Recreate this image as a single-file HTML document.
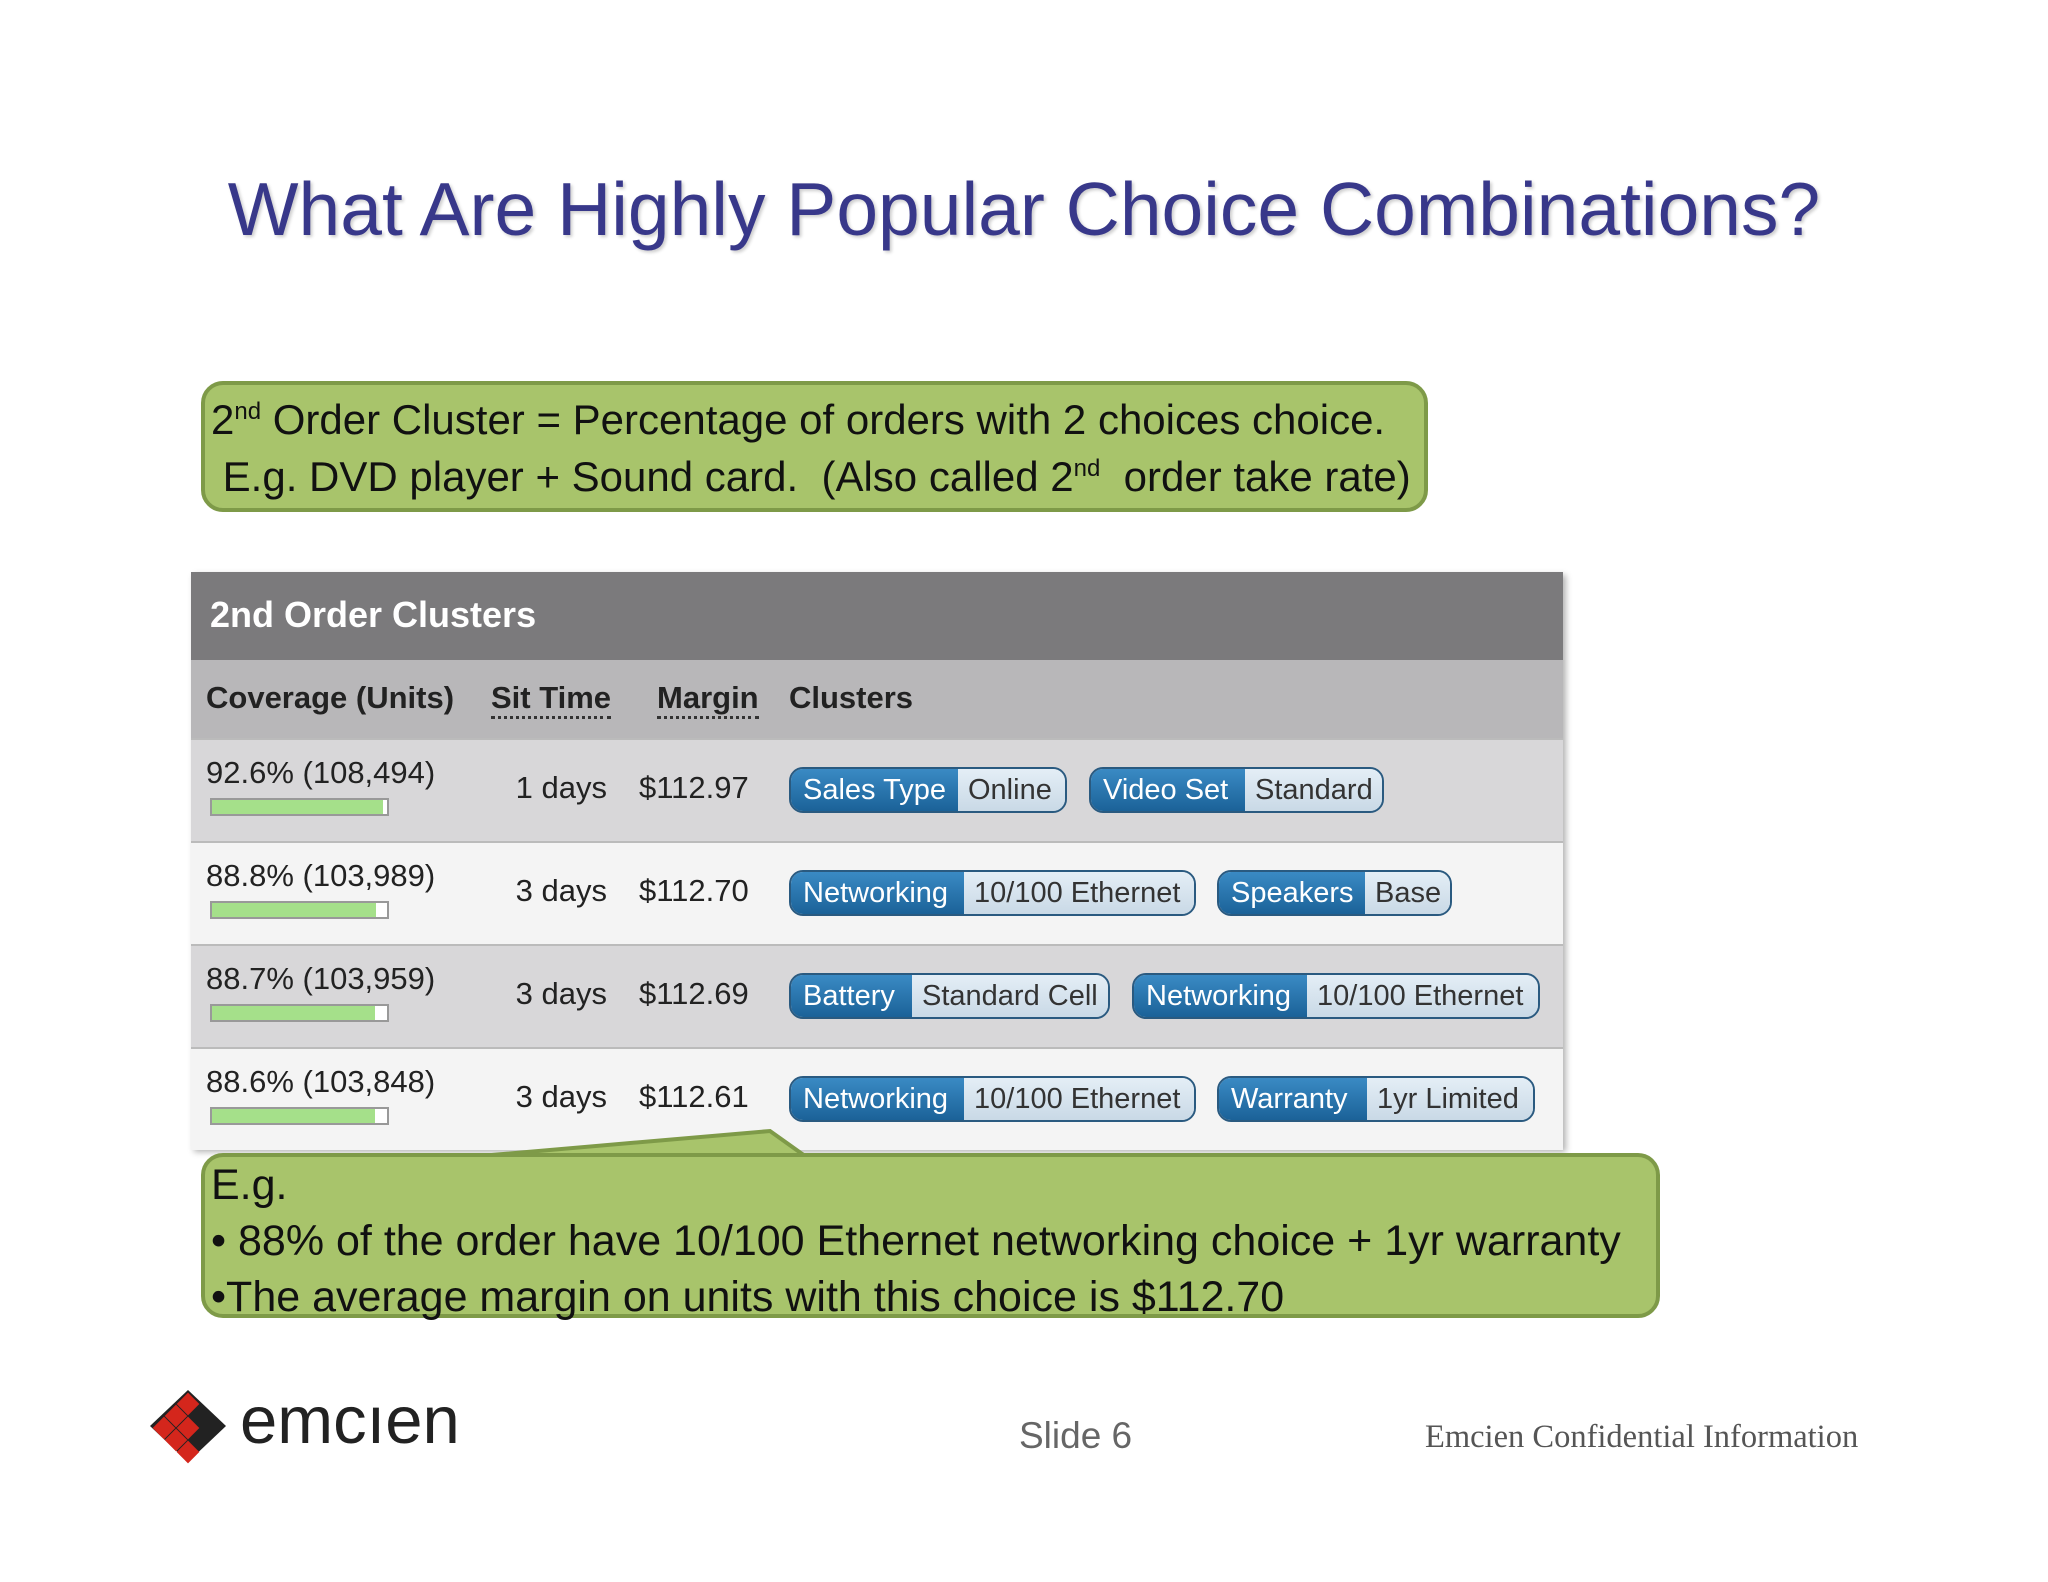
<!DOCTYPE html>
<html><head><meta charset="utf-8"><style>
body{margin:0;width:2048px;height:1582px;background:#fff;position:relative;overflow:hidden;font-family:"Liberation Sans",sans-serif}
.a{position:absolute}
.title{left:0;width:2048px;top:166px;text-align:center;font-size:75px;color:#38388a;text-shadow:2px 2px 3px rgba(0,0,0,.2)}
.gbox{background:#a8c46b;border:4px solid #7e9a48;border-radius:22px;box-sizing:border-box;color:#111;font-size:42px}
sup{line-height:0;font-size:24px}
.tbl{left:191px;top:572px;width:1372px;height:577px;box-shadow:3px 3px 6px rgba(0,0,0,.3)}
.t{font-family:"Liberation Sans Narrow","Liberation Sans",sans-serif;font-size:31px;color:#222;white-space:nowrap}
.pill{position:absolute;height:46px;border:2px solid #2a5a80;border-radius:14px;overflow:hidden;display:flex;box-sizing:border-box;font-family:"Liberation Sans Narrow","Liberation Sans",sans-serif;font-size:29px;line-height:42px}
.pk{background:linear-gradient(#3a8ac4,#1b6298);color:#fff;padding-left:12px;box-sizing:border-box}
.pv{background:linear-gradient(#e4eef6,#c9d9e6);color:#333;padding-left:10px;flex:1}
.bar{position:absolute;left:19px;width:179px;height:18px;border:2px solid #999;background:#fff;box-sizing:border-box}
.bar div{height:100%;background:#a5e08a}
</style></head><body>
<div class="a title">What Are Highly Popular Choice Combinations?</div>
<div class="a gbox" style="left:201px;top:381px;width:1227px;height:131px;padding:6px 0 0 6px;line-height:57px">2<sup>nd</sup> Order Cluster = Percentage of orders with 2 choices choice.<br>&nbsp;E.g. DVD player + Sound card.&nbsp; (Also called 2<sup>nd</sup>&nbsp; order take rate)</div>

<div class="a tbl">
 <div class="a" style="left:0;top:0;width:1372px;height:88px;background:#7b7a7c"></div>
 <div class="a t" style="left:19px;top:22px;font-size:36px;font-weight:bold;color:#fff">2nd Order Clusters</div>
 <div class="a" style="left:0;top:88px;width:1372px;height:78px;background:#b8b7b9"></div>
 <div class="a t" style="left:15px;top:108px;font-weight:bold">Coverage (Units)</div>
 <div class="a t" style="left:300px;top:108px;font-weight:bold;border-bottom:3px dotted #333">Sit Time</div>
 <div class="a t" style="left:466px;top:108px;font-weight:bold;border-bottom:3px dotted #333">Margin</div>
 <div class="a t" style="left:598px;top:108px;font-weight:bold">Clusters</div>
 <div id="rows"></div>
</div>

<svg class="a" style="left:0;top:0" width="2048" height="1582"><polygon points="480,1156 770,1131 805,1156" fill="#a8c46b" stroke="#7e9a48" stroke-width="4"/><rect x="470" y="1158" width="340" height="6" fill="#a8c46b"/></svg>
<div class="a gbox" style="left:201px;top:1153px;width:1459px;height:165px;padding:0 0 0 6px;line-height:55px"><span style="font-size:43px">E.g.<br>• 88% of the order have 10/100 Ethernet networking choice + 1yr warranty<br>•The average margin on units with this choice is $112.70</span></div>

<svg class="a" style="left:150px;top:1388px" width="80" height="76"><polygon points="38,2 76,38 38,74 0,38" fill="#222"/><g fill="#d4261c"><rect x="30" y="8" width="16" height="16" transform="rotate(45 38 16)"/><rect x="18" y="20" width="16" height="16" transform="rotate(45 26 28)"/><rect x="6" y="32" width="16" height="16" transform="rotate(45 14 40)"/><rect x="30" y="32" width="16" height="16" transform="rotate(45 38 40)"/><rect x="18" y="44" width="16" height="16" transform="rotate(45 26 52)"/><rect x="30" y="56" width="16" height="16" transform="rotate(45 38 64)"/></g></svg>
<div class="a" style="left:240px;top:1382px;font-size:67px;color:#222">emcıen</div>
<div class="a" style="left:1019px;top:1415px;font-size:37px;color:#666">Slide 6</div>
<div class="a" style="left:1425px;top:1419px;font-size:32.5px;color:#555;font-family:'Liberation Serif',serif">Emcien Confidential Information</div>

<script>
const coverage=["92.6% (108,494)","88.8% (103,989)","88.7% (103,959)","88.6% (103,848)"];
const coverageFrac=[0.926,0.888,0.887,0.886];
const sitTime=["1 days","3 days","3 days","3 days"];
const margins=["$112.97","$112.70","$112.69","$112.61"];
const clusterKeys=[["Sales Type","Video Set"],["Networking","Speakers"],["Battery","Networking"],["Networking","Warranty"]];
const clusterVals=[["Online","Standard"],["10/100 Ethernet","Base"],["Standard Cell","10/100 Ethernet"],["10/100 Ethernet","1yr Limited"]];
const geo=[[[598,765,876],[898,1052,1193]],[[598,771,1005],[1026,1172,1261]],[[598,719,919],[941,1114,1349]],[[598,771,1005],[1026,1174,1344]]];
const rows=document.getElementById('rows');
const rowTop=166,rowH=103,barMax=0.95;
coverage.forEach((c,i)=>{
 const r=document.createElement('div');r.className='a';
 
 
 r.style.cssText=`left:0;top:${rowTop+i*rowH}px;width:1372px;height:${rowH}px;background:${i%2?'#f4f4f4':'#d8d7d9'};border-top:2px solid #bbb;box-sizing:border-box`;
 r.innerHTML=`<div class="a t" style="left:15px;top:15px">${c}</div>
 <div class="bar" style="top:58px"><div style="width:${coverageFrac[i]/barMax*100}%"></div></div>
 <div class="a t" style="left:300px;width:116px;text-align:right;top:30px">${sitTime[i]}</div>
 <div class="a t" style="left:448px;top:30px">${margins[i]}</div>`;
 clusterKeys[i].forEach((k,j)=>{
  const g=geo[i][j];const p=document.createElement('div');p.className='pill';
  
  
  p.style.left=g[0]+'px';p.style.top='27px';p.style.width=(g[2]-g[0])+'px';
  p.innerHTML=`<div class="pk" style="width:${g[1]-g[0]}px">${k}</div><div class="pv">${clusterVals[i][j]}</div>`;
  r.appendChild(p);
 });
 rows.appendChild(r);
});
</script>
</body></html>
